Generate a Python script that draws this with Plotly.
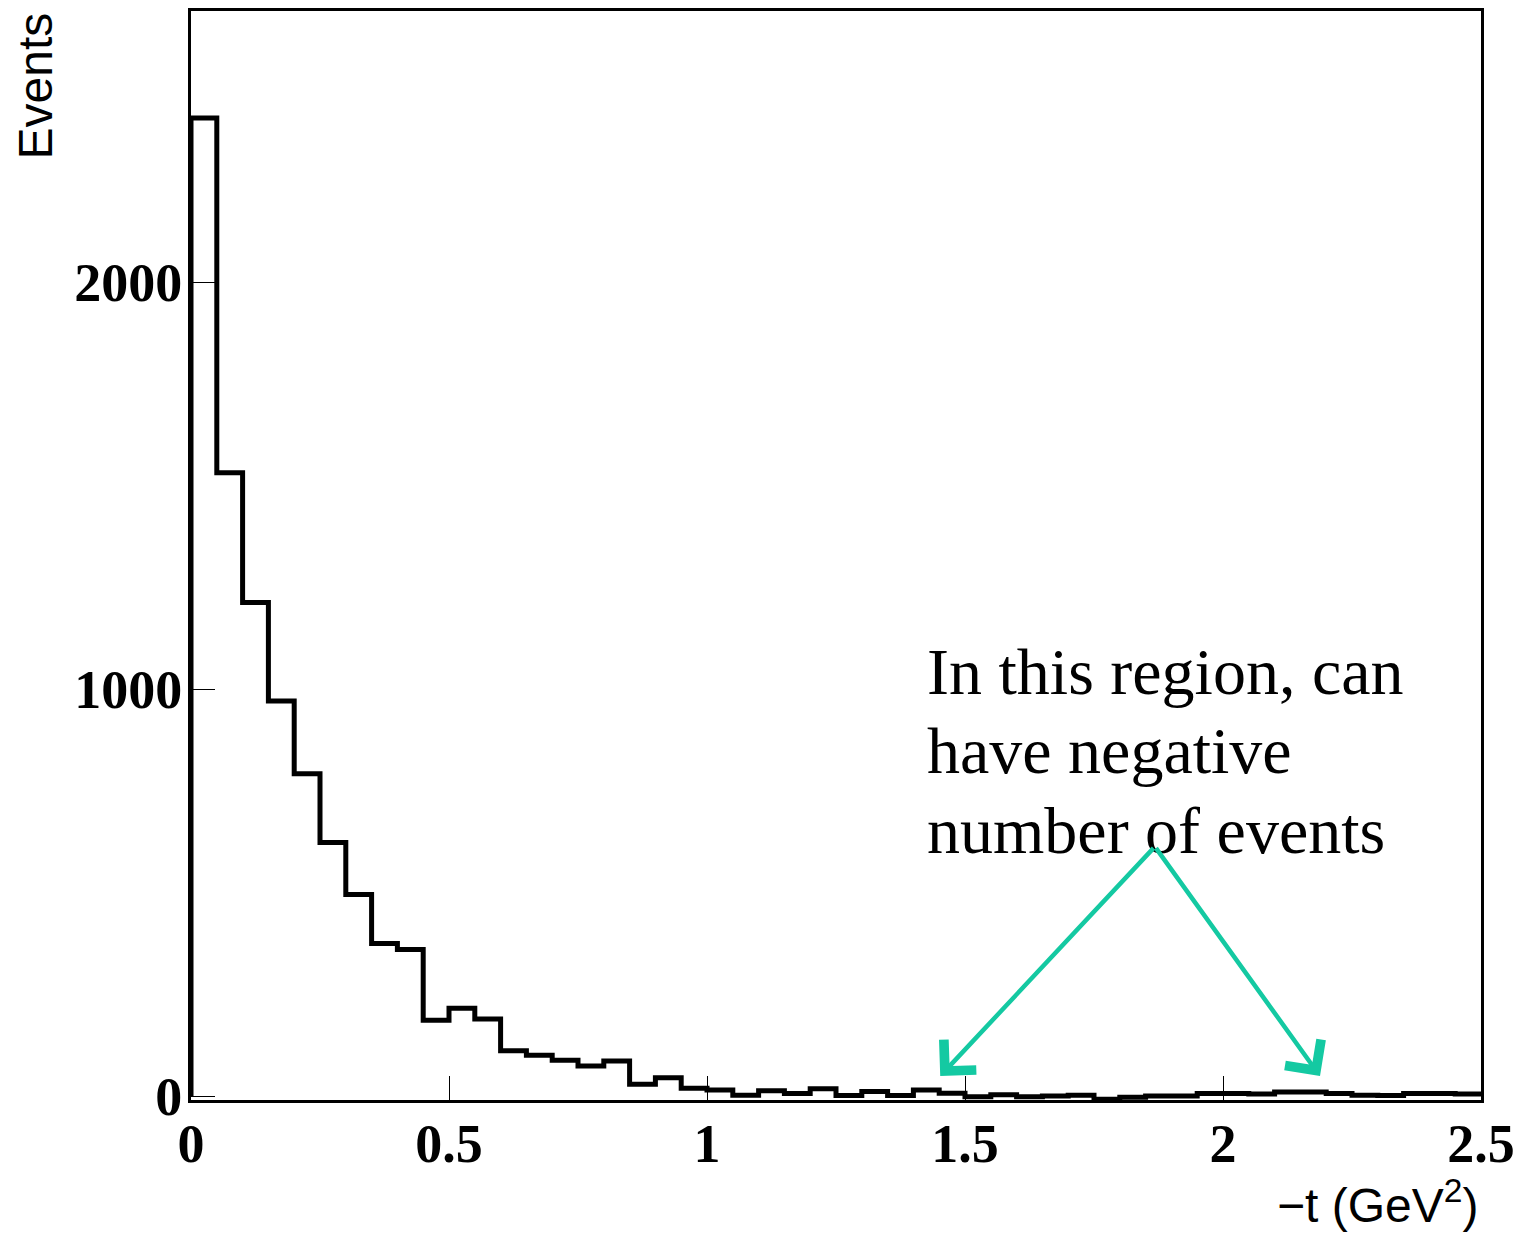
import plotly.graph_objects as go

# ---- data ----
bin_width = 0.05
bin_left_edges = [round(i * bin_width, 2) for i in range(50)]
events = [2404, 1532, 1213, 971, 792, 623, 495, 375, 360, 186,
          216, 189, 111, 100, 88, 74, 86, 29, 45, 19,
          15, 2, 13, 6, 18, 1, 11, 1, 15, 7,
          -2, 3, -2, 0, 2, -8, -3, 0, 0, 6,
          6, 5, 10, 10, 6, 2, 1, 6, 6, 5]
x_tick_vals = [0, 0.5, 1, 1.5, 2, 2.5]
x_tick_text = ["0", "0.5", "1", "1.5", "2", "2.5"]
y_tick_vals = [0, 1000, 2000]
y_tick_text = ["0", "1000", "2000"]
note_lines = ["In this region, can", "have negative", "number of events"]
x_range = [0, 2.5]
y_range = [-9.8, 2666.7]

# step outline of the histogram
step_x = [bin_left_edges[0]] + bin_left_edges + [bin_left_edges[-1] + bin_width]
step_y = [0] + events + [events[-1]]

fig = go.Figure()
fig.add_trace(go.Scatter(
    x=step_x, y=step_y, mode="lines", line_shape="hv",
    line=dict(color="black", width=5), showlegend=False, hoverinfo="skip"))

W, H = 1523, 1239
ml, mr, mt, mb = 191, 42, 8, 139

axis_common = dict(showline=True, linecolor="black", linewidth=3, mirror=True,
                   ticks="inside", ticklen=24, tickwidth=1, tickcolor="black",
                   showgrid=False, zeroline=False,
                   tickfont=dict(family="Liberation Serif", size=54, color="black",
                                 weight="bold"))

fig.update_layout(
    width=W, height=H,
    margin=dict(l=ml, r=mr, t=mt, b=mb, pad=0),
    plot_bgcolor="white", paper_bgcolor="white",
    xaxis=dict(range=x_range, tickmode="array", tickvals=x_tick_vals,
               ticktext=x_tick_text, ticklabelstandoff=-6, **axis_common),
    yaxis=dict(range=y_range, tickmode="array", tickvals=y_tick_vals,
               ticktext=y_tick_text, ticklabelstandoff=-5, **axis_common),
)

pw = W - ml - mr
ph = H - mt - mb

def px_to_paper_x(px):
    return (px - ml) / pw

def px_to_paper_y(py):
    return (H - mb - py) / ph

# axis titles
fig.add_annotation(text="Events", xref="paper", yref="paper",
                   x=px_to_paper_x(35), y=px_to_paper_y(8),
                   xanchor="center", yanchor="top", textangle=-90, showarrow=False,
                   font=dict(family="Liberation Sans", size=48, color="black"))
fig.add_annotation(text="\u2212t (GeV<sup>2</sup>)", xref="paper", yref="paper",
                   x=px_to_paper_x(1480), y=px_to_paper_y(1234),
                   xanchor="right", yanchor="bottom", showarrow=False,
                   font=dict(family="Liberation Sans", size=48, color="black"))

# note text, one annotation per line
note_y = [1044, 848, 652]
for line, yv in zip(note_lines, note_y):
    fig.add_annotation(text=line, xref="x", yref="y", x=1.422, y=yv,
                       xanchor="left", yanchor="middle", showarrow=False,
                       font=dict(family="Liberation Serif", size=66, color="black"))

# arrows
teal = "#14C9A2"
apex = (1.868, 613)
for tip in [(1.452, 49), (2.188, 49)]:
    fig.add_annotation(x=tip[0], y=tip[1], ax=apex[0], ay=apex[1],
                       xref="x", yref="y", axref="x", ayref="y", text="",
                       showarrow=True, arrowhead=4, arrowsize=1.9, arrowwidth=4.5,
                       arrowcolor=teal)

fig.write_html("out.html")
